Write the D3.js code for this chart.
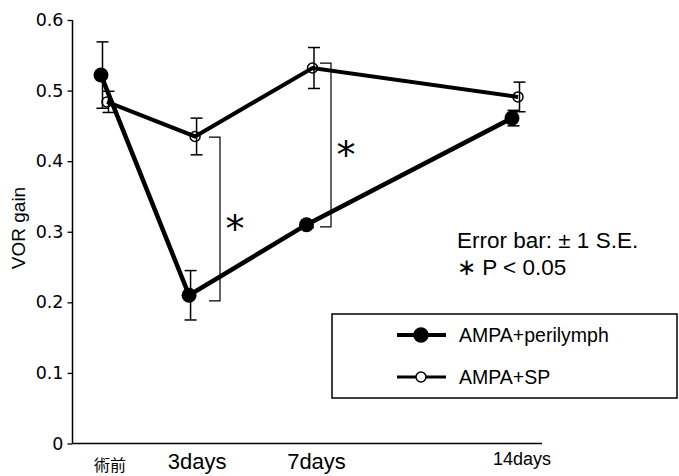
<!DOCTYPE html>
<html>
<head>
<meta charset="utf-8">
<script src="https://cdn.jsdelivr.net/npm/d3@7"></script>
<style>
  body { margin: 0; background: #fff; }
  svg { display: block; font-family: "Liberation Sans", Arial, sans-serif; }
</style>
</head>
<body>
<svg width="679" height="476"></svg>
<script>
// data
var days = [0, 3, 7, 14];
var dayLabels = ["術前", "3days", "7days", "14days"];
var perilymph = [0.522, 0.21, 0.31, 0.461];
var perilymphSE = [0.047, 0.035, 0.004, 0.011];
var sp = [0.484, 0.435, 0.532, 0.491];
var spSE = [0.015, 0.026, 0.029, 0.021];
var yTicks = [0, 0.1, 0.2, 0.3, 0.4, 0.5, 0.6];
// significance brackets: day, top value, bottom value
var sigDays = [3, 7];
var sigTop = [0.434, 0.539];
var sigBottom = [0.202, 0.307];

var svg = d3.select("svg");

var x = d3.scaleLinear().domain([0, 14]).range([101, 512]);
var y = d3.scaleLinear().domain([0, 0.6]).range([443.5, 20]);
var spShift = 6;

// y axis
var yAxis = svg.append("g")
  .attr("transform", "translate(72.5,0)")
  .call(d3.axisLeft(y).tickValues(yTicks).tickSize(5).tickPadding(4)
    .tickFormat(function(d) { return d === 0 ? "0" : d3.format(".1f")(d); }));
yAxis.select(".domain").attr("stroke-width", 1.5).attr("d", "M0," + y(0.6) + "V" + y(0));
yAxis.selectAll(".tick line").attr("stroke-width", 1.3);
yAxis.selectAll("text").attr("font-size", 17.5).attr("fill", "#000")
  .attr("font-family", "'DejaVu Sans', sans-serif");

// x axis line
svg.append("line")
  .attr("x1", 72.5).attr("x2", 542).attr("y1", y(0)).attr("y2", y(0))
  .attr("stroke", "#000").attr("stroke-width", 1.5);

// x labels
var labelSize = [16, 22, 22, 18];
var labelDx = [9, 8, 10, 10];
var labelY = [471, 469, 469, 465];
svg.append("g").selectAll("text")
  .data(days)
  .enter().append("text")
  .attr("x", function(d, i) { return x(d) + labelDx[i]; })
  .attr("y", function(d, i) { return labelY[i]; })
  .attr("text-anchor", "middle")
  .attr("font-size", function(d, i) { return labelSize[i]; })
  .attr("font-family", function(d, i) { return i === 0 ? "'Noto Sans CJK JP', sans-serif" : null; })
  .text(function(d, i) { return dayLabels[i]; });

// y title
svg.append("text")
  .attr("transform", "translate(25,228) rotate(-90)")
  .attr("text-anchor", "middle")
  .attr("font-size", 19)
  .text("VOR gain");

function drawSeries(vals, se, shift, lineW) {
  var g = svg.append("g");
  var line = d3.line()
    .x(function(d, i) { return x(days[i]) + shift; })
    .y(function(d) { return y(d); });
  g.append("path")
    .datum(vals)
    .attr("d", line)
    .attr("fill", "none")
    .attr("stroke", "#000")
    .attr("stroke-width", lineW);
  var eb = g.selectAll(".eb").data(vals).enter().append("g").attr("class", "eb");
  eb.append("line")
    .attr("x1", function(d, i) { return x(days[i]) + shift + 1.5; })
    .attr("x2", function(d, i) { return x(days[i]) + shift + 1.5; })
    .attr("y1", function(d, i) { return y(d + se[i]); })
    .attr("y2", function(d, i) { return y(d - se[i]); })
    .attr("stroke", "#000").attr("stroke-width", 1.5);
  [1, -1].forEach(function(s) {
    eb.append("line")
      .attr("x1", function(d, i) { return x(days[i]) + shift + 1.5 - 6; })
      .attr("x2", function(d, i) { return x(days[i]) + shift + 1.5 + 6; })
      .attr("y1", function(d, i) { return y(d + s * se[i]); })
      .attr("y2", function(d, i) { return y(d + s * se[i]); })
      .attr("stroke", "#000").attr("stroke-width", 1.5);
  });
  return g;
}

var gSP = drawSeries(sp, spSE, spShift, 4);
gSP.selectAll("circle").data(sp).enter().append("circle")
  .attr("cx", function(d, i) { return x(days[i]) + spShift; })
  .attr("cy", function(d) { return y(d); })
  .attr("r", 5)
  .attr("fill", "none")
  .attr("stroke", "#000").attr("stroke-width", 1.5);

var gP = drawSeries(perilymph, perilymphSE, 0, 4.5);
gP.selectAll("circle").data(perilymph).enter().append("circle")
  .attr("cx", function(d, i) { return x(days[i]); })
  .attr("cy", function(d) { return y(d); })
  .attr("r", 7.5)
  .attr("fill", "#000");

// significance brackets
var br = svg.append("g");
sigDays.forEach(function(day, k) {
  var bx = Math.round(x(day) + (k === 0 ? 31 : 24));
  var y1 = y(sigTop[k]), y2 = y(sigBottom[k]);
  br.append("path")
    .attr("d", "M" + (bx - 11) + "," + y1 + "H" + bx + "V" + y2 + "H" + (bx - 11))
    .attr("fill", "none").attr("stroke", "#000").attr("stroke-width", 1.2);
  br.append("text")
    .attr("x", bx + 15).attr("y", (y1 + y2) / 2 + 23)
    .attr("text-anchor", "middle")
    .attr("font-size", 38)
    .attr("font-family", "'DejaVu Sans', sans-serif")
    .text("*");
});

// notes
svg.append("text").attr("x", 457).attr("y", 248).attr("font-size", 22.5)
  .text("Error bar: ± 1 S.E.");
svg.append("text").attr("x", 457).attr("y", 275).attr("font-size", 22.5)
  .text("∗ P < 0.05");

// legend
var lg = svg.append("g");
lg.append("rect")
  .attr("x", 332).attr("y", 314).attr("width", 345).attr("height", 84)
  .attr("fill", "none").attr("stroke", "#000").attr("stroke-width", 1.5);
var legendItems = [
  { name: "AMPA+perilymph", filled: true, y: 335 },
  { name: "AMPA+SP", filled: false, y: 377 }
];
var li = lg.selectAll(".li").data(legendItems).enter().append("g");
li.append("line")
  .attr("x1", 397).attr("x2", 446)
  .attr("y1", function(d) { return d.y; }).attr("y2", function(d) { return d.y; })
  .attr("stroke", "#000").attr("stroke-width", function(d) { return d.filled ? 4 : 3; });
li.append("circle")
  .attr("cx", 421).attr("cy", function(d) { return d.y; })
  .attr("r", function(d) { return d.filled ? 7 : 5; })
  .attr("fill", function(d) { return d.filled ? "#000" : "#fff"; })
  .attr("stroke", "#000").attr("stroke-width", 1.5);
li.append("text")
  .attr("x", 459).attr("y", function(d) { return d.y + 7; })
  .attr("font-size", 19.5)
  .text(function(d) { return d.name; });
</script>
</body>
</html>
